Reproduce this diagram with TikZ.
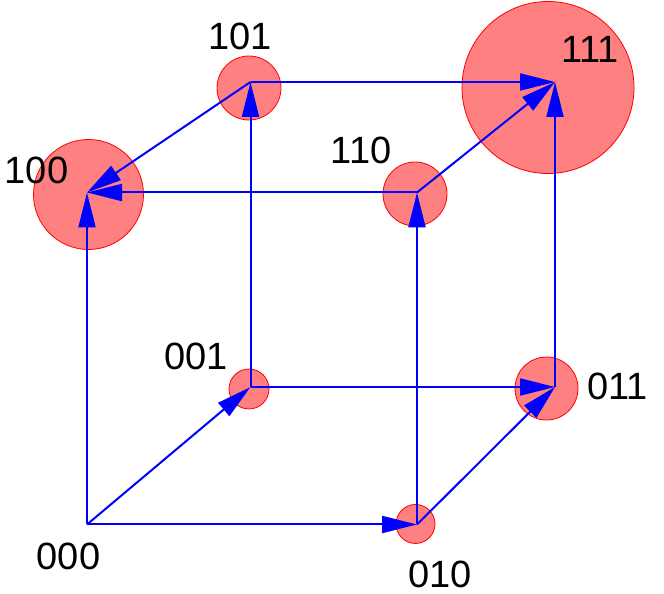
\documentclass[tikz,border=0pt]{standalone}
\usepackage{fontspec}
\setmainfont{Liberation Sans}
\usetikzlibrary{arrows.meta}
\begin{document}
\begin{tikzpicture}[x=1pt,y=1pt,
  blob/.style={circle,draw=red,line width=0.8pt,fill=red!50!white,inner sep=0pt},
  arr/.style={draw=blue,line width=2pt,-{Triangle[length=35pt,width=17pt]}},
  lbl/.style={inner sep=0pt,font=\fontsize{38}{40}\selectfont}]
\useasboundingbox (0,0) rectangle (664,594);
% circles
\node[blob,minimum size=39pt] (c010) at (415.5,70) {};
\node[blob,minimum size=40pt] (c001) at (249,205) {};
\node[blob,minimum size=63pt] (c011) at (546.5,205.5) {};
\node[blob,minimum size=110pt] (c100) at (88.5,399.5) {};
\node[blob,minimum size=64pt] (c110) at (415,400) {};
\node[blob,minimum size=64pt] (c101) at (249,506) {};
\node[blob,minimum size=172pt] (c111) at (548,506.5) {};
% vertices
\coordinate (v000) at (87,69.5);
\coordinate (v010) at (417,69.5);
\coordinate (v001) at (250.5,207);
\coordinate (v011) at (555,207);
\coordinate (v100) at (87,401.5);
\coordinate (v110) at (417,401.5);
\coordinate (v101) at (250.5,512);
\coordinate (v111) at (555,512);
% edges
\draw[arr] (v000) -- (v010);
\draw[arr] (v000) -- (v001);
\draw[arr] (v000) -- (v100);
\draw[arr] (v001) -- (v011);
\draw[arr] (v001) -- (v101);
\draw[arr] (v010) -- (v011);
\draw[arr] (v010) -- (v110);
\draw[arr] (v011) -- (v111);
\draw[arr] (v110) -- (v100);
\draw[arr] (v110) -- (v111);
\draw[arr] (v101) -- (v100);
\draw[arr] (v101) -- (v111);
% labels
\node[lbl] (l000) at (68.5,38) {000};
\node[lbl] (l010) at (440,20) {010};
\node[lbl] (l001) at (196,238) {001};
\node[lbl] (l011) at (617.5,208) {011};
\node[lbl] (l100) at (36.5,423.5) {100};
\node[lbl] (l110) at (361,444) {110};
\node[lbl] (l101) at (240,558) {101};
\node[lbl] (l111) at (590,545) {111};
\end{tikzpicture}
\end{document}
